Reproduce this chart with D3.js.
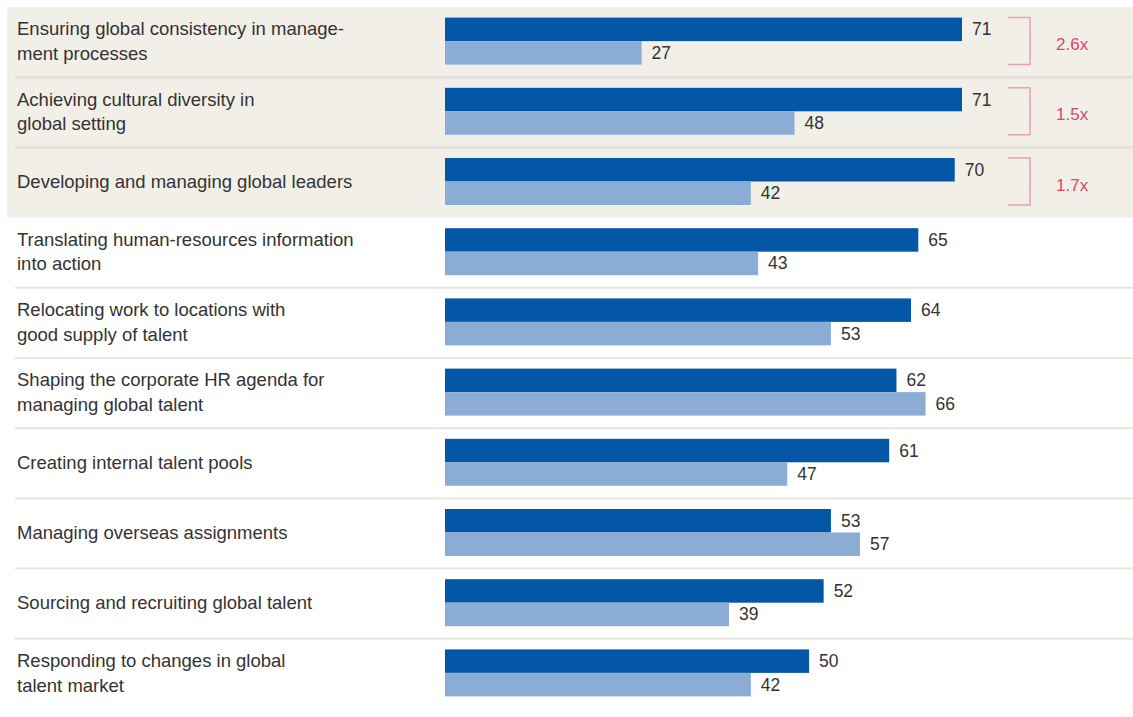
<!DOCTYPE html>
<html>
<head>
<meta charset="utf-8">
<script src="https://cdn.jsdelivr.net/npm/d3@7"></script>
<style>
  body { margin: 0; background: #fff; }
  text { font-family: "Liberation Sans", Arial, sans-serif; }
</style>
</head>
<body>
<script>
// categories (each one split into the lines shown)
var categories = [
  ["Ensuring global consistency in manage-", "ment processes"],
  ["Achieving cultural diversity in", "global setting"],
  ["Developing and managing global leaders"],
  ["Translating human-resources information", "into action"],
  ["Relocating work to locations with", "good supply of talent"],
  ["Shaping the corporate HR agenda for", "managing global talent"],
  ["Creating internal talent pools"],
  ["Managing overseas assignments"],
  ["Sourcing and recruiting global talent"],
  ["Responding to changes in global", "talent market"]
];
var seriesDark = [71, 71, 70, 65, 64, 62, 61, 53, 52, 50];
var seriesLight = [27, 48, 42, 43, 53, 66, 47, 57, 39, 42];
var ratios = ["2.6x", "1.5x", "1.7x"]; // only the top 3 rows

var w = 1133, h = 717;
var x0 = 445;

var svg = d3.select("body").append("svg")
  .attr("width", w).attr("height", h);

var idx = d3.range(categories.length);

var yScale = d3.scaleBand()
  .domain(idx)
  .range([7, 709]);

var xScale = d3.scaleLinear()
  .domain([0, 71])
  .range([x0, 962]);

var barH = 23.5;

// beige highlight for the first three rows
svg.append("rect")
  .attr("x", 7)
  .attr("y", yScale(0))
  .attr("width", w - 7)
  .attr("height", yScale(2) + yScale.bandwidth() - yScale(0))
  .attr("fill", "#f2efe8");

// row separators
svg.selectAll("line.sep")
  .data(idx.filter(function(i){ return i > 0 && i !== 3; }))
  .enter()
  .append("line")
  .attr("class", "sep")
  .attr("x1", 15).attr("x2", w)
  .attr("y1", function(i){ return yScale(i); })
  .attr("y2", function(i){ return yScale(i); })
  .attr("stroke", function(i){ return i < 3 ? "#e0dcd3" : "#e8e5df"; })
  .attr("stroke-width", 2);

// category labels
var lab = svg.selectAll("text.cat")
  .data(idx)
  .enter()
  .append("text")
  .attr("class", "cat")
  .attr("fill", "#333")
  .attr("font-size", "18.5px");

lab.each(function(i){
  var lines = categories[i];
  var cy = yScale(i) + yScale.bandwidth() / 2 - 1;
  var t = d3.select(this);
  lines.forEach(function(s, k){
    t.append("tspan")
      .attr("x", 17)
      .attr("y", cy + (k - (lines.length - 1) / 2) * 24.5 + 6.5)
      .text(s);
  });
});

function barTop(i){ return yScale(i) + yScale.bandwidth() / 2 - barH - 1; }

// dark bars
svg.selectAll("rect.dark")
  .data(seriesDark)
  .enter()
  .append("rect")
  .attr("class", "dark")
  .attr("x", x0)
  .attr("y", function(d, i){ return barTop(i); })
  .attr("width", function(d){ return xScale(d) - x0; })
  .attr("height", barH)
  .attr("fill", "#0457a7");

// light bars
svg.selectAll("rect.light")
  .data(seriesLight)
  .enter()
  .append("rect")
  .attr("class", "light")
  .attr("x", x0)
  .attr("y", function(d, i){ return barTop(i) + barH; })
  .attr("width", function(d){ return xScale(d) - x0; })
  .attr("height", barH)
  .attr("fill", "#8badd5");

// value labels
svg.selectAll("text.vdark")
  .data(seriesDark)
  .enter()
  .append("text")
  .attr("x", function(d){ return xScale(d) + 10; })
  .attr("y", function(d, i){ return barTop(i) + barH / 2 + 6; })
  .attr("font-size", "17.5px")
  .attr("fill", "#333")
  .text(function(d){ return d; });

svg.selectAll("text.vlight")
  .data(seriesLight)
  .enter()
  .append("text")
  .attr("x", function(d){ return xScale(d) + 10; })
  .attr("y", function(d, i){ return barTop(i) + barH * 1.5 + 6; })
  .attr("font-size", "17.5px")
  .attr("fill", "#333")
  .text(function(d){ return d; });

// brackets and ratios
var br = svg.selectAll("g.br")
  .data(ratios)
  .enter()
  .append("g");

br.append("path")
  .attr("d", function(d, i){
    var t = barTop(i), b = t + barH * 2;
    return "M1008," + t + "H1030V" + b + "H1008";
  })
  .attr("fill", "none")
  .attr("stroke", "#e6a3ae")
  .attr("stroke-width", 1.5);

br.append("text")
  .attr("x", 1056)
  .attr("y", function(d, i){ return barTop(i) + barH + 9; })
  .attr("font-size", "17px")
  .attr("fill", "#d8476a")
  .text(function(d){ return d; });
</script>
</body>
</html>
